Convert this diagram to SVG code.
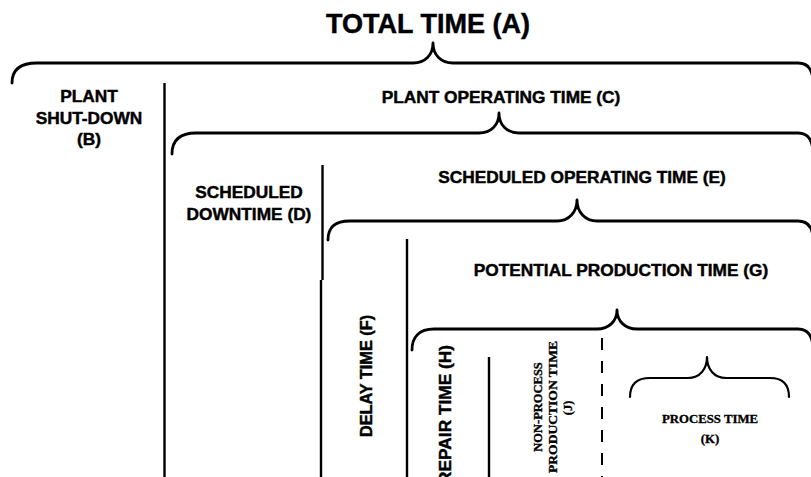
<svg xmlns="http://www.w3.org/2000/svg" width="811" height="477" viewBox="0 0 811 477">
<style>
.s{font-family:"Liberation Sans",Arial,sans-serif;font-weight:bold;fill:#000;stroke:#000;stroke-width:0.45;}
.t{font-family:"Liberation Serif","Times New Roman",serif;font-weight:bold;fill:#000;stroke:#000;stroke-width:0.35;}
.m{text-anchor:middle;}
.br{fill:none;stroke:#000;stroke-width:2.8;stroke-linejoin:round;stroke-linecap:round;}
.br2{fill:none;stroke:#000;stroke-width:2.2;stroke-linejoin:round;stroke-linecap:round;}
.ln{stroke:#000;stroke-width:2.4;fill:none;}
.dl{stroke:#000;stroke-width:2;fill:none;stroke-dasharray:12 11;}
</style>
<rect width="811" height="477" fill="#fff"/>
<g id="connectors">
<path class="br" d="M12,83 C12,70 20,63 37,63 L413,63 C425,63 433,55 433,43 C433,55 441,63 453,63 L798,63 C808,63 813,70 813,83"/>
<path class="br" d="M172,154 C172,140 180,133 196,133 L479,133 C491,133 499,125 499,113 C499,125 507,133 519,133 L798,133 C808,133 813,140 813,154"/>
<path class="br" d="M328,240 C328,227 335,221 350,221 L557,221 C569,221 577,212 577,200 C577,212 585,221 597,221 L798,221 C808,221 813,228 813,240"/>
<path class="br" d="M412,350 C412,337 419,329 434,329 L597,329 C609,329 617,321 617,310 C617,321 625,329 637,329 L798,329 C808,329 813,336 813,350"/>
<path class="br2" d="M630,397 C630,385 636,378 650,378 L688,378 C700,378 707,369 707,357 C707,369 714,378 726,378 L770,378 C783,378 789,385 789,397"/>
<line class="ln" x1="164.5" y1="83" x2="164.5" y2="477"/>
<line class="ln" x1="322.5" y1="165" x2="322.5" y2="280"/>
<line class="ln" x1="321" y1="280" x2="321" y2="477"/>
<line class="ln" x1="407" y1="239" x2="407" y2="477"/>
<line class="ln" x1="489" y1="357" x2="489" y2="477"/>
<line class="dl" x1="602" y1="338" x2="602" y2="477"/>
</g>
<g id="total-time"><text class="s m" x="428" y="33" font-size="27">TOTAL TIME (A)</text></g>
<g id="plant-shutdown">
<text class="s m" x="89" y="102" font-size="17.3">PLANT</text>
<text class="s m" x="89" y="124" font-size="17.3">SHUT-DOWN</text>
<text class="s m" x="89" y="145" font-size="17.3">(B)</text>
</g>
<g id="plant-operating"><text class="s m" x="501" y="103" font-size="17.3">PLANT OPERATING TIME (C)</text></g>
<g id="scheduled-downtime">
<text class="s m" x="249" y="198" font-size="17.3">SCHEDULED</text>
<text class="s m" x="249" y="220" font-size="17.3">DOWNTIME (D)</text>
</g>
<g id="scheduled-operating"><text class="s m" x="582" y="183" font-size="17.3">SCHEDULED OPERATING TIME (E)</text></g>
<g id="delay-time"><text class="s m" transform="translate(372,376) rotate(-90)" font-size="16.3">DELAY TIME (F)</text></g>
<g id="potential-production"><text class="s m" x="621" y="276" font-size="17.3">POTENTIAL PRODUCTION TIME (G)</text></g>
<g id="repair-time"><text class="s" text-anchor="end" transform="translate(451,345) rotate(-90)" font-size="17.3">REPAIR TIME (H)</text></g>
<g id="non-process">
<text class="t m" transform="translate(542,407) rotate(-90)" font-size="12.5">NON-PROCESS</text>
<text class="t m" transform="translate(557,407) rotate(-90)" font-size="12.5" textLength="132" lengthAdjust="spacingAndGlyphs">PRODUCTION TIME</text>
<text class="t m" transform="translate(572,408) rotate(-90)" font-size="12.5">(J)</text>
</g>
<g id="process-time">
<text class="t m" x="710" y="423" font-size="12.8">PROCESS TIME</text>
<text class="t m" x="710" y="443" font-size="12.8">(K)</text>
</g>
</svg>
